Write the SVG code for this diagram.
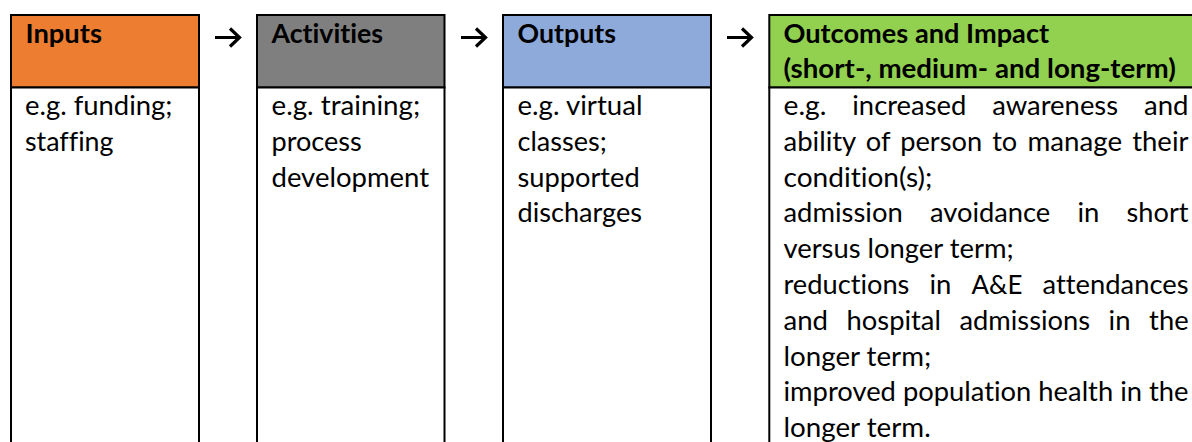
<svg xmlns="http://www.w3.org/2000/svg" width="1192" height="442" viewBox="0 0 1192 442">
<style>
.box{stroke:#000;stroke-width:2}
.body{fill:#fff}
.h{font-family:Lato,"Open Sans","Liberation Sans",sans-serif;font-weight:bold;font-size:27.5px;fill:#000;font-variant-ligatures:none}
.t{font-family:Lato,"Open Sans","Liberation Sans",sans-serif;font-size:27.5px;fill:#000;font-variant-ligatures:none}
.arr{fill:none;stroke:#000;stroke-width:3.2;stroke-linecap:butt;stroke-linejoin:miter}
</style>
<rect width="1192" height="442" fill="#fff"/>
<g id="inputs">
<rect class="box" x="11" y="15" width="188" height="72.5" fill="#ED7D31"/>
<rect class="box body" x="11" y="87.5" width="188" height="370"/>
<text class="h" x="25.5" y="42.5" textLength="76.4" lengthAdjust="spacingAndGlyphs">Inputs</text>
<text class="t" x="25" y="115" textLength="147.5" lengthAdjust="spacingAndGlyphs">e.g. funding;</text>
<text class="t" x="25" y="150.8" textLength="88.5" lengthAdjust="spacingAndGlyphs">staffing</text>
</g>
<g id="activities">
<rect class="box" x="257" y="15" width="187.5" height="72.5" fill="#7F7F7F"/>
<rect class="box body" x="257" y="87.5" width="187.5" height="370"/>
<text class="h" x="271.5" y="42.5" textLength="111.5" lengthAdjust="spacingAndGlyphs">Activities</text>
<text class="t" x="271.5" y="115" textLength="148.7" lengthAdjust="spacingAndGlyphs">e.g. training;</text>
<text class="t" x="271.5" y="150.8" textLength="90.3" lengthAdjust="spacingAndGlyphs">process</text>
<text class="t" x="271.5" y="186.6" textLength="157.5" lengthAdjust="spacingAndGlyphs">development</text>
</g>
<g id="outputs">
<rect class="box" x="503" y="15" width="208" height="72.5" fill="#8EAADB"/>
<rect class="box body" x="503" y="87.5" width="208" height="370"/>
<text class="h" x="517.5" y="42.5" textLength="98.4" lengthAdjust="spacingAndGlyphs">Outputs</text>
<text class="t" x="517.5" y="115" textLength="125" lengthAdjust="spacingAndGlyphs">e.g. virtual</text>
<text class="t" x="517.5" y="150.8" textLength="89.3" lengthAdjust="spacingAndGlyphs">classes;</text>
<text class="t" x="517.5" y="186.6" textLength="122.2" lengthAdjust="spacingAndGlyphs">supported</text>
<text class="t" x="517.5" y="222.4" textLength="124.6" lengthAdjust="spacingAndGlyphs">discharges</text>
</g>
<g id="outcomes">
<rect class="box" x="769.3" y="15" width="440" height="72.5" fill="#92D050"/>
<rect class="box body" x="769.3" y="87.5" width="440" height="370"/>
<text class="h" x="783.5" y="42.5" textLength="265.6" lengthAdjust="spacingAndGlyphs">Outcomes and Impact</text>
<text class="h" x="783.5" y="78.3" textLength="392.4" lengthAdjust="spacingAndGlyphs">(short-, medium- and long-term)</text>
<text class="t" y="115">
<tspan x="783.5" textLength="42.9" lengthAdjust="spacingAndGlyphs">e.g.</tspan>
<tspan x="852.3" textLength="114" lengthAdjust="spacingAndGlyphs">increased</tspan>
<tspan x="992.2" textLength="125.9" lengthAdjust="spacingAndGlyphs">awareness</tspan>
<tspan x="1144" textLength="44.5" lengthAdjust="spacingAndGlyphs">and</tspan>
</text>
<text class="t" y="150.8">
<tspan x="783.5" textLength="72.1" lengthAdjust="spacingAndGlyphs">ability</tspan>
<tspan x="865.8" textLength="24.2" lengthAdjust="spacingAndGlyphs">of</tspan>
<tspan x="900.2" textLength="81.9" lengthAdjust="spacingAndGlyphs">person</tspan>
<tspan x="992.2" textLength="25.1" lengthAdjust="spacingAndGlyphs">to</tspan>
<tspan x="1027.5" textLength="94.6" lengthAdjust="spacingAndGlyphs">manage</tspan>
<tspan x="1132.2" textLength="56.3" lengthAdjust="spacingAndGlyphs">their</tspan>
</text>
<text class="t" x="783.5" y="186.6" textLength="148.8" lengthAdjust="spacingAndGlyphs">condition(s);</text>
<text class="t" y="222.4">
<tspan x="783.5" textLength="119.2" lengthAdjust="spacingAndGlyphs">admission</tspan>
<tspan x="929.9" textLength="120.4" lengthAdjust="spacingAndGlyphs">avoidance</tspan>
<tspan x="1077.5" textLength="21.9" lengthAdjust="spacingAndGlyphs">in</tspan>
<tspan x="1126.6" textLength="61.9" lengthAdjust="spacingAndGlyphs">short</tspan>
</text>
<text class="t" x="783.5" y="258.2" textLength="230.1" lengthAdjust="spacingAndGlyphs">versus longer term;</text>
<text class="t" y="294">
<tspan x="783.5" textLength="125.9" lengthAdjust="spacingAndGlyphs">reductions</tspan>
<tspan x="929.5" textLength="21.9" lengthAdjust="spacingAndGlyphs">in</tspan>
<tspan x="971.5" textLength="50.9" lengthAdjust="spacingAndGlyphs">A&amp;E</tspan>
<tspan x="1042.6" textLength="145.9" lengthAdjust="spacingAndGlyphs">attendances</tspan>
</text>
<text class="t" y="329.8">
<tspan x="783.5" textLength="44.5" lengthAdjust="spacingAndGlyphs">and</tspan>
<tspan x="846.6" textLength="94.3" lengthAdjust="spacingAndGlyphs">hospital</tspan>
<tspan x="959.5" textLength="130.5" lengthAdjust="spacingAndGlyphs">admissions</tspan>
<tspan x="1108.6" textLength="21.9" lengthAdjust="spacingAndGlyphs">in</tspan>
<tspan x="1149.1" textLength="39.5" lengthAdjust="spacingAndGlyphs">the</tspan>
</text>
<text class="t" x="783.5" y="365.6" textLength="147.7" lengthAdjust="spacingAndGlyphs">longer term;</text>
<text class="t" x="783.5" y="401.4" textLength="405" lengthAdjust="spacingAndGlyphs">improved population health in the</text>
<text class="t" x="783.5" y="437.2" textLength="147.2" lengthAdjust="spacingAndGlyphs">longer term.</text>
</g>
<g id="connectors">
<path class="arr" d="M215 37.5H239M230 28.5L239.5 37.5L230 46.5"/>
<path class="arr" d="M461 37.5H485M476 28.5L485.5 37.5L476 46.5"/>
<path class="arr" d="M727 37.5H751M742 28.5L751.5 37.5L742 46.5"/>
</g>
</svg>
